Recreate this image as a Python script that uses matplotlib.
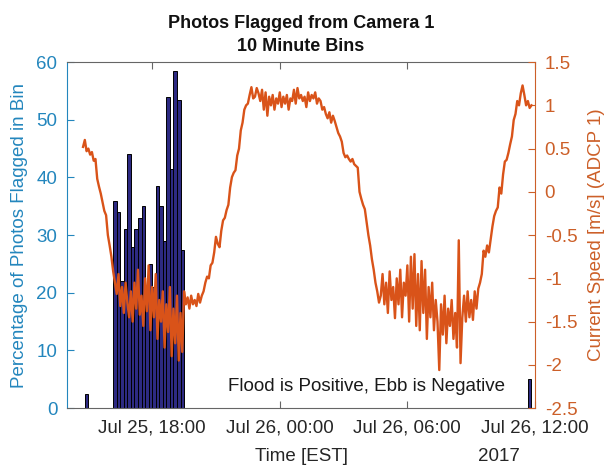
import matplotlib
matplotlib.use("Agg")
import matplotlib.pyplot as plt
import matplotlib.dates as mdates
import matplotlib.ticker as mticker
import pandas as pd

plt.rcParams['font.family'] = ['Liberation Sans', 'DejaVu Sans']

# ---- flagged-photo percentages, 10 minute bins (bin centres) ----
bar_start = "2017-07-25 16:15"
bar_pct = [36, 34, 22, 31, 44, 28, 31, 33, 35, 20,
           25, 21, 38.5, 35, 29, 54, 41.5, 58.5, 53.5, 27.5]
extra_bar_times = ["2017-07-25 14:55", "2017-07-26 11:45"]
extra_bar_pct = [2.5, 5]

# ---- ADCP 1 current speed, 5 minute samples from 14:45 ----
speed_start = "2017-07-25 14:45"
speed = (
    [0.52, 0.60, 0.47] +
    [0.50, 0.43, 0.46, 0.36, 0.38, 0.15, 0.06, -0.02, -0.12, -0.22, -0.27, -0.50] +
    [-0.62, -0.75, -0.92, -1.05, -1.18, -0.95, -1.32, -1.10, -1.40, -1.05, -1.28, -1.45] +
    [-1.15, -1.50, -1.05, -1.35, -0.90, -1.42, -1.20, -1.55, -1.00, -1.38, -0.85, -1.60] +
    [-1.10, -1.45, -0.95, -1.70, -1.25, -1.50, -1.15, -1.80, -1.30, -1.62, -1.10, -1.90] +
    [-1.35, -1.75, -1.20, -1.95, -1.40, -1.85, -1.15, -1.30, -1.22, -1.35, -1.20, -1.30] +
    [-1.25, -1.32, -1.18, -1.28, -1.20, -1.15, -1.05, -0.98, -1.00, -0.85, -0.82, -0.70] +
    [-0.52, -0.60, -0.64, -0.45, -0.33, -0.30, -0.21, -0.15, 0.05, 0.17, 0.22, 0.25] +
    [0.42, 0.50, 0.71, 0.80, 0.95, 1.00, 1.02, 1.12, 1.21, 1.08, 1.10, 1.20] +
    [1.14, 1.05, 1.18, 0.95, 1.15, 0.88, 1.10, 1.00, 1.12, 0.95, 1.08, 1.02] +
    [1.15, 0.98, 1.10, 1.02, 1.12, 0.95, 1.08, 1.05, 1.18, 1.02, 1.20, 1.08] +
    [1.12, 1.05, 1.10, 0.98, 1.15, 1.05, 1.12, 1.08, 1.15, 1.02, 1.08, 1.05] +
    [0.95, 0.98, 0.90, 0.85, 0.92, 0.80, 0.88, 0.82, 0.75, 0.68, 0.64, 0.58] +
    [0.45, 0.40, 0.42, 0.38, 0.35, 0.38, 0.32, 0.30, 0.28, 0.00, -0.08, -0.15] +
    [-0.20, -0.35, -0.50, -0.62, -0.78, -0.90, -1.05, -1.15, -1.28, -1.20, -0.95, -1.30] +
    [-1.05, -1.40, -0.92, -1.25, -1.10, -1.46, -1.00, -1.30, -0.90, -1.45, -1.05, -1.20] +
    [-0.85, -1.50, -0.75, -1.35, -0.72, -1.55, -0.95, -1.60, -0.80, -1.40, -0.90, -1.70] +
    [-1.10, -1.45, -1.05, -1.60, -1.25, -1.50, -2.06, -1.30, -1.65, -1.20, -1.75, -1.35] +
    [-1.55, -1.25, -1.70, -1.40, -1.80, -0.56, -1.98, -1.45, -1.20, -1.50, -1.15, -1.45] +
    [-1.25, -1.48, -1.15, -1.35, -1.12, -1.05, -0.95, -0.68, -0.75, -0.62, -0.70, -0.55] +
    [-0.40, -0.28, -0.22, -0.18, 0.05, -0.02, 0.20, 0.35, 0.37, 0.45, 0.55, 0.64] +
    [0.83, 0.90, 1.05, 1.00, 1.14, 1.23, 1.12, 1.00, 1.05, 0.97, 1.00]
)

x_start, x_end = "2017-07-25 14:00", "2017-07-26 12:00"
x_ticks = ["2017-07-25 18:00", "2017-07-26 00:00", "2017-07-26 06:00", "2017-07-26 12:00"]
left_ticks = [0, 10, 20, 30, 40, 50, 60]
right_ticks = [-2.5, -2, -1.5, -1, -0.5, 0, 0.5, 1, 1.5]

BLUE = '#2386bd'
ORANGE = '#d95319'
ORANGE_TXT = '#cc5f28'
BAR = '#2d2a82'
FRAME = '#666666'
FS = 13.5

bar_times = pd.date_range(bar_start, periods=len(bar_pct), freq='10min')
all_bar_t = list(bar_times) + [pd.Timestamp(t) for t in extra_bar_times]
all_bar_v = list(bar_pct) + list(extra_bar_pct)
speed_times = pd.date_range(speed_start, periods=len(speed), freq='5min')

fig = plt.figure(figsize=(6.1, 4.74), dpi=100)
ax = fig.add_axes([0.110, 0.139, 0.767, 0.730])

ax.bar(mdates.date2num(all_bar_t), all_bar_v, width=10 / 1440,
       color=BAR, edgecolor='black', linewidth=0.7, zorder=2)
ax.set_xlim(mdates.date2num(pd.Timestamp(x_start)), mdates.date2num(pd.Timestamp(x_end)))
ax.set_ylim(0, 60)
ax.set_yticks(left_ticks)
ax.xaxis.set_major_locator(mticker.FixedLocator(mdates.date2num(pd.to_datetime(x_ticks))))
ax.xaxis.set_major_formatter(mdates.DateFormatter('%b %d, %H:%M'))
ax.tick_params(axis='x', direction='in', top=True, length=5, pad=8,
               labelsize=FS, colors=FRAME, labelcolor='#262626')
ax.tick_params(axis='y', direction='in', length=5, pad=7,
               labelsize=FS, colors=BLUE)
ax.set_ylabel('Percentage of Photos Flagged in Bin', color=BLUE, fontsize=FS)
ax.yaxis.set_label_coords(-0.083, 0.5)
for s in ('top', 'bottom'):
    ax.spines[s].set_color(FRAME)
ax.spines['left'].set_color(BLUE)
ax.spines['right'].set_visible(False)

ax2 = ax.twinx()
ax2.plot(mdates.date2num(speed_times), speed, color=ORANGE, lw=1.7, zorder=3)
ax2.set_ylim(-2.5, 1.5)
ax2.set_yticks(right_ticks)
ax2.yaxis.set_major_formatter(mticker.FuncFormatter(lambda v, p: f"{v:g}"))
ax2.tick_params(axis='y', direction='in', length=5, pad=7,
                labelsize=FS, colors=ORANGE_TXT)
ax2.set_ylabel('Current Speed [m/s] (ADCP 1)', color=ORANGE_TXT, fontsize=FS)
ax2.yaxis.set_label_coords(1.113, 0.5)
for s in ('top', 'bottom', 'left'):
    ax2.spines[s].set_visible(False)
ax2.spines['right'].set_color(ORANGE_TXT)

ax2.text(0.639, 0.062, 'Flood is Positive, Ebb is Negative', transform=ax.transAxes,
         ha='center', va='center', fontsize=FS, color='#1a1a1a')

ax.set_title('Photos Flagged from Camera 1\n10 Minute Bins', fontweight='bold',
             fontsize=13, linespacing=1.45, pad=8, color='#111111')
fig.text(0.494, 0.036, 'Time [EST]', ha='center', va='center', fontsize=FS, color='#262626')
fig.text(0.818, 0.036, '2017', ha='center', va='center', fontsize=FS, color='#262626')

fig.savefig('out.png', dpi=100, facecolor='white')
